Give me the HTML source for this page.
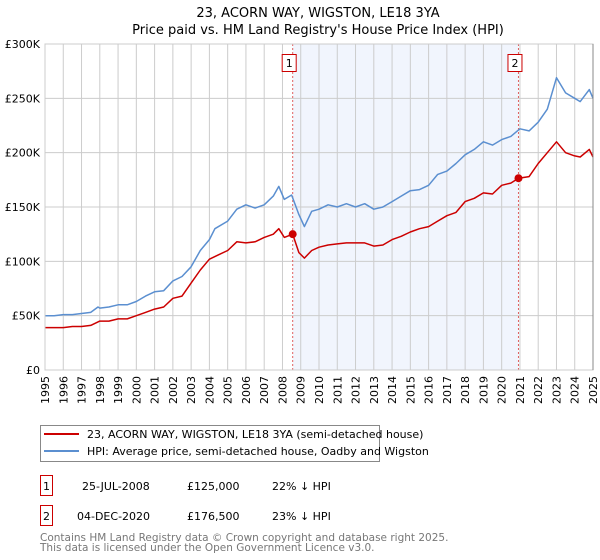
<!DOCTYPE html>
<html><head><meta charset="utf-8"><style>
body{margin:0;background:#fff;font-family:"DejaVu Sans","Liberation Sans",sans-serif;}
svg{display:block}
</style></head><body>
<svg id="c" width="600" height="560" xmlns="http://www.w3.org/2000/svg" font-family="DejaVu Sans, Liberation Sans, sans-serif">
<text x="318" y="17" text-anchor="middle" font-size="13">23, ACORN WAY, WIGSTON, LE18 3YA</text>
<text x="318" y="34" text-anchor="middle" font-size="13">Price paid vs. HM Land Registry's House Price Index (HPI)</text>
<g id="plot"></g>
<g>
<rect x="40.5" y="425.5" width="339" height="36" fill="#fff" stroke="#888"/>
<line x1="44" y1="434" x2="79" y2="434" stroke="#cc0000" stroke-width="2"/>
<text x="87" y="438" font-size="11">23, ACORN WAY, WIGSTON, LE18 3YA (semi-detached house)</text>
<line x1="44" y1="451" x2="79" y2="451" stroke="#5b8fd0" stroke-width="2"/>
<text x="87" y="455" font-size="11">HPI: Average price, semi-detached house, Oadby and Wigston</text>
</g>
<g font-size="11">
<rect x="40.5" y="475.5" width="12" height="20" fill="#fff" stroke="#cc0000"/>
<text x="46.5" y="490" text-anchor="middle">1</text>
<text x="82" y="490">25-JUL-2008</text>
<text x="187" y="490">£125,000</text>
<text x="272" y="490">22% ↓ HPI</text>
<rect x="40.5" y="505.5" width="12" height="20" fill="#fff" stroke="#cc0000"/>
<text x="46.5" y="520" text-anchor="middle">2</text>
<text x="77" y="520">04-DEC-2020</text>
<text x="187" y="520">£176,500</text>
<text x="272" y="520">23% ↓ HPI</text>
</g>
<text x="40" y="541" font-size="10.5" fill="#777">Contains HM Land Registry data © Crown copyright and database right 2025.</text>
<text x="40" y="551" font-size="10.5" fill="#777">This data is licensed under the Open Government Licence v3.0.</text>
</svg>
<script>
const hpiYears=[1995,1995.5,1996,1996.5,1997,1997.5,1997.9,1998,1998.5,1999,1999.5,2000,2000.5,2001,2001.5,2002,2002.5,2003,2003.5,2004,2004.3,2005,2005.5,2006,2006.5,2007,2007.5,2007.8,2008.1,2008.5,2008.9,2009.2,2009.6,2010,2010.5,2011,2011.5,2012,2012.5,2013,2013.5,2014,2014.5,2015,2015.5,2016,2016.5,2017,2017.5,2018,2018.5,2019,2019.5,2020,2020.5,2021,2021.5,2022,2022.5,2023,2023.5,2024,2024.3,2024.8,2025];
const hpiValues=[50,50,51,51,52,53,58,57,58,60,60,63,68,72,73,82,86,95,110,120,130,137,148,152,149,152,160,169,157,161,143,132,146,148,152,150,153,150,153,148,150,155,160,165,166,170,180,183,190,198,203,210,207,212,215,222,220,228,240,269,255,250,247,258,250];
const priceYears=[1995,1995.5,1996,1996.5,1997,1997.5,1998,1998.5,1999,1999.5,2000,2000.5,2001,2001.5,2002,2002.5,2003,2003.5,2004,2004.5,2005,2005.5,2006,2006.5,2007,2007.5,2007.8,2008.1,2008.56,2008.9,2009.2,2009.6,2010,2010.5,2011,2011.5,2012,2012.5,2013,2013.5,2014,2014.5,2015,2015.5,2016,2016.5,2017,2017.5,2018,2018.5,2019,2019.5,2020,2020.5,2020.92,2021.5,2022,2022.5,2023,2023.5,2024,2024.3,2024.8,2025];
const priceValues=[39,39,39,40,40,41,45,45,47,47,50,53,56,58,66,68,80,92,102,106,110,118,117,118,122,125,130,122,125,108,103,110,113,115,116,117,117,117,114,115,120,123,127,130,132,137,142,145,155,158,163,162,170,172,176.5,178,190,200,210,200,197,196,203,196];
const saleYears=[2008.56,2020.92];
const saleValues=[125,176.5];
const saleLabels=["1","2"];
const yTicks=[0,50,100,150,200,250,300];
const yTickLabels=["£0","£50K","£100K","£150K","£200K","£250K","£300K"];
const xTicks=[1995,1996,1997,1998,1999,2000,2001,2002,2003,2004,2005,2006,2007,2008,2009,2010,2011,2012,2013,2014,2015,2016,2017,2018,2019,2020,2021,2022,2023,2024,2025];

const L=45,R=593,T=44,B=370;
const x=v=>L+(v-1995)/30*(R-L);
const y=v=>B-v/300*(B-T);
const NS="http://www.w3.org/2000/svg";
const g=document.getElementById('plot');
function mk(t,a){const e=document.createElementNS(NS,t);for(const k in a)e.setAttribute(k,a[k]);g.appendChild(e);return e;}
let sh=mk('rect',{x:x(saleYears[0]),y:T,width:x(saleYears[1])-x(saleYears[0]),height:B-T,fill:'#eef3fd',opacity:0.8});


xTicks.forEach(t=>{
 const l=mk('line',{x1:x(t),x2:x(t),y1:T,y2:B,stroke:'#cccccc','stroke-width':1});
 
 
 const tx=mk('text',{x:0,y:0,'font-size':11,'text-anchor':'end',transform:`translate(${x(t)+4},${B+6}) rotate(-90)`});
 tx.textContent=t;
 
 
});
yTicks.forEach((t,i)=>{
 const l=mk('line',{x1:L,x2:R,y1:y(t),y2:y(t),stroke:'#cccccc','stroke-width':1});
 
 
 const tx=mk('text',{x:L-5,y:y(t)+4,'font-size':11,'text-anchor':'end'});
 tx.textContent=yTickLabels[i];
 
 
});
saleYears.forEach((s,i)=>{
 const l=mk('line',{x1:x(s),x2:x(s),y1:T,y2:B,stroke:'#e06060','stroke-width':1,'stroke-dasharray':'2,2'});
 
 
});
function path(xs,vs,col,name){
 const d=xs.map((v,i)=>(i?'L':'M')+x(v).toFixed(1)+','+y(vs[i]).toFixed(1)).join('');
 const p=mk('path',{d:d,fill:'none',stroke:col,'stroke-width':1.5,'stroke-linejoin':'round'});
 
 
}
path(hpiYears,hpiValues,'#5b8fd0','hpi-line');
path(priceYears,priceValues,'#cc0000','price-line');
saleYears.forEach((s,i)=>{
 const c=mk('circle',{cx:x(s),cy:y(saleValues[i]),r:4,fill:'#cc0000'});
 
 
 const bx=mk('rect',{x:x(s)-10.5,y:54.5,width:14,height:17,fill:'#fff',stroke:'#cc0000'});
 
 
 const t=mk('text',{x:x(s)-3.5,y:67,'font-size':11,'text-anchor':'middle'});
 t.textContent=saleLabels[i];
 
 
});
const fr=mk('rect',{x:L,y:T,width:R-L,height:B-T,fill:'none',stroke:'#cccccc'});


const rb=mk('line',{x1:R,x2:R,y1:T,y2:B,stroke:'#888'});


</script>
</body></html>
